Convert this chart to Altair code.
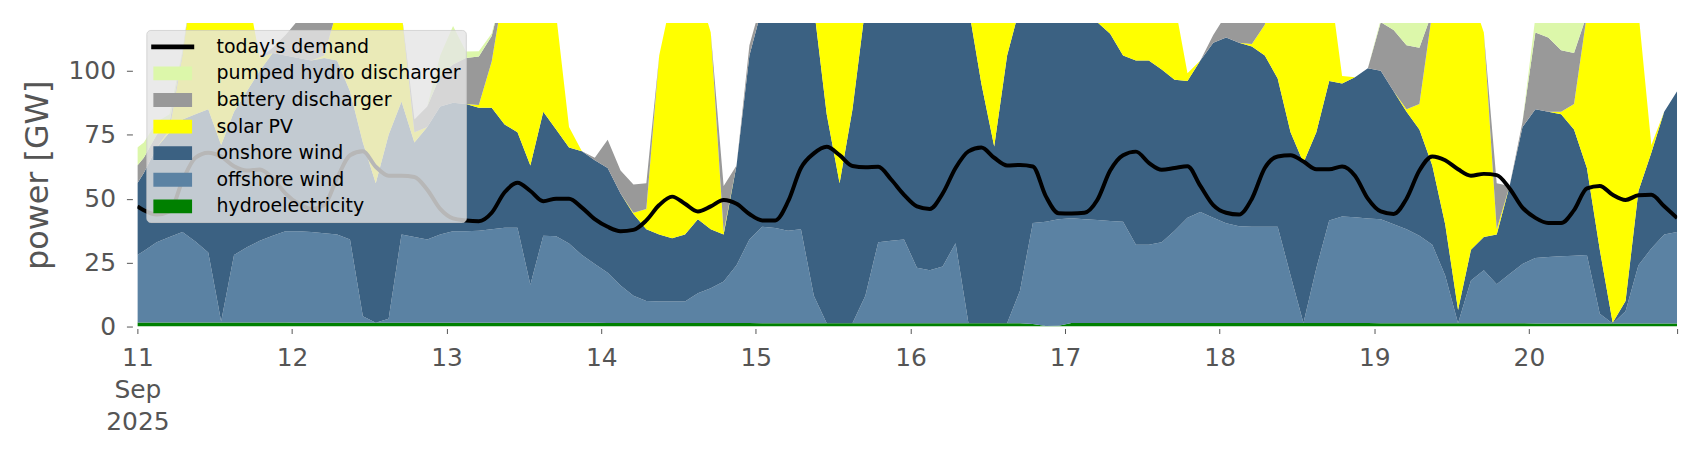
import altair as alt
import pandas as pd

# readings: 11 Sep 2025 00:00, then every odd hour 01:00 .. 20 Sep 2025 23:00
times = ["2025-09-11T00:00:00"] + list(
    pd.date_range("2025-09-11 01:00", "2025-09-20 23:00", freq="2h").strftime("%Y-%m-%dT%H:%M:%S"))

hydro = [1.6,
         1.6, 1.6, 1.6, 1.6, 1.6, 1.6, 1.6, 1.6, 1.6, 1.6, 1.6, 1.6,
         1.5, 1.5, 1.5, 1.5, 1.5, 1.5, 1.5, 1.5, 1.5, 1.5, 1.5, 1.5,
         1.5, 1.5, 1.5, 1.5, 1.5, 1.5, 1.5, 1.5, 1.5, 1.5, 1.5, 1.5,
         1.4, 1.4, 1.4, 1.4, 1.4, 1.4, 1.4, 1.4, 1.4, 1.4, 1.4, 1.4,
         1.3, 1.3, 1.3, 1.3, 1.3, 1.3, 1.3, 1.3, 1.3, 1.3, 1.3, 1.3,
         1.3, 1.3, 1.3, 1.3, 1.3, 1.3, 1.3, 1.3, 1.3, 1.0, 0.2, 0.3,
         1.4, 1.4, 1.4, 1.4, 1.4, 1.4, 1.4, 1.4, 1.4, 1.4, 1.4, 1.4,
         1.4, 1.4, 1.4, 1.4, 1.4, 1.4, 1.4, 1.4, 1.4, 1.4, 1.4, 1.4,
         1.3, 1.3, 1.3, 1.3, 1.3, 1.3, 1.3, 1.3, 1.3, 1.3, 1.3, 1.3,
         1.2, 1.2, 1.2, 1.2, 1.2, 1.2, 1.2, 1.2, 1.2, 1.2, 1.2, 1.2]

offshore = [26.4,
            27.9, 31.4, 33.4, 35.4, 31.7, 27.4, 0.4, 26.4, 29.4, 31.9, 33.9, 35.7,
            35.8, 35.5, 35.0, 34.5, 32.5, 2.5, 0.0, 1.5, 34.5, 33.5, 32.5, 34.5,
            35.8, 35.8, 36.0, 36.5, 37.1, 37.1, 14.8, 34.0, 33.8, 31.0, 26.5, 23.0,
            19.6, 14.6, 10.6, 8.6, 8.4, 8.4, 8.4, 11.6, 13.6, 16.2, 22.6, 32.6,
            37.7, 37.2, 36.2, 36.7, 10.7, 0.0, 0.0, 0.0, 10.7, 31.7, 32.2, 32.7,
            21.7, 20.7, 22.2, 31.3, 0.0, 0.0, 0.0, 0.0, 12.7, 39.5, 40.8, 41.7,
            40.9, 40.6, 40.3, 39.9, 39.6, 30.6, 30.6, 31.6, 36.1, 41.1, 43.4, 41.1,
            39.0, 37.8, 37.6, 37.6, 37.6, 18.6, 0.0, 21.4, 40.1, 41.6, 41.3, 40.8,
            40.7, 38.7, 36.7, 34.2, 30.7, 18.7, 0.0, 16.7, 20.7, 15.2, 19.2, 23.2,
            25.6, 26.0, 26.3, 26.5, 26.8, 3.8, 0.0, 4.8, 22.8, 29.3, 34.8, 35.8]

onshore = [28,
           30.5, 37, 41, 44, 49.7, 56, 69, 56, 61, 66.5, 71.5, 68.7,
           67.7, 67, 68.5, 68, 58, 68, 54.5, 72, 52, 37, 44, 50,
           50.2, 49.7, 48.1, 47.6, 40.4, 37.4, 46.7, 48.5, 41.7, 37.5, 40.5, 40.5,
           41, 36, 32, 28, 26.2, 24.7, 26.2, 29, 23, 18.4, 39, 72,
           86, 91.5, 92.5, 92, 113, 81.7, 54.7, 83.7, 113, 97, 96.5, 96,
           107, 108, 106.5, 97.4, 123.7, 93.7, 69.1, 104.7, 111, 89.5, 89, 86,
           85.7, 82, 77.3, 73.2, 65, 72, 72, 67.5, 59, 53.5, 59.2, 68.5,
           72.6, 71.8, 70.5, 67, 58, 56, 62.6, 53.2, 54.5, 52, 54.8, 58.8,
           58, 52, 46, 41.5, 31, 20, 5.2, 12, 13, 19.5, 34.5, 53.5,
           58.2, 56.8, 55.5, 49.3, 34, 25, 0.3, 4, 29, 37.5, 48, 55]

solar = [0,
         0, 0, 1, 25, 60, 80, 90, 75, 40, 5, 0, 0,
         0, 0, 1, 20, 50, 70, 85, 70, 35, 4, 0, 0,
         0, 0, 1, 18, 55, 75, 88, 72, 45, 8, 0, 0,
         0, 0, 0.5, 8, 70, 95, 100, 90, 77, 1, 0, 0,
         0, 0, 0.5, 15, 50, 75, 90, 75, 45, 5, 0, 0,
         0, 0, 0.5, 15, 45, 70, 80, 65, 35, 3, 0, 0,
         0, 0, 0.5, 12, 40, 60, 70, 55, 30, 3, 0, 0,
         0, 0, 1, 12, 45, 70, 85, 75, 40, 3, 0, 0,
         0, 0, 1, 10, 60, 90, 115, 100, 80, 2, 0, 0,
         0, 0, 1, 10, 60, 95, 120, 112, 70, 3, 0, 0]

battery = [7,
           6, 5, 3, 1, 0, 0, 0, 0, 0, 0, 2, 8,
           15, 18, 16, 2, 0, 0, 0, 0, 0, 5, 8, 12,
           15, 18, 19, 10, 0, 0, 0, 0, 0, 0, 0, 1,
           11, 9, 11, 10, 0, 0, 0, 0, 0, 18, 0, 4,
           3, 0, 0, 0, 0, 0, 0, 0, 0, 0, 0, 0,
           0, 0, 0, 0, 0, 0, 0, 0, 0, 0, 0, 0,
           0, 0, 1, 0, 0, 0, 0, 0, 0, 0, 0, 3,
           9, 10, 11, 5, 0, 0, 0, 0, 0, 0, 0, 0,
           19, 24, 25, 22, 0, 0, 0, 0, 0, 18, 0, 2,
           30, 29, 24, 20, 0, 0, 0, 0, 0, 0, 0, 0]

pumped = [7,
          6, 5, 3, 1, 0, 0, 0, 0, 0, 0, 0, 0,
          0, 0, 0, 0, 0, 0, 0, 0, 0, 0, 0, 8,
          15, 2.5, 2, 1, 0, 0, 0, 0, 0, 0, 0, 0,
          0, 0, 0, 0, 0, 0, 0, 0, 0, 0, 0, 0,
          0, 0, 0, 0, 0, 0, 0, 0, 0, 0, 0, 0,
          0, 0, 0, 0, 0, 0, 0, 0, 0, 0, 0, 0,
          0, 0, 0, 0, 0, 0, 0, 0, 0, 0, 0, 0,
          0, 0, 0, 0, 0, 0, 0, 0, 0, 0, 0, 0,
          1, 5, 12, 10, 0, 0, 0, 0, 0, 0, 0, 0,
          6, 8, 13, 13, 0, 0, 0, 0, 0, 0, 0, 0]

demand = [47,
          45.5, 43.8, 45, 57, 66, 68, 66.5, 62.7, 61, 61.4, 58, 52,
          48, 46, 47.5, 58, 67, 68.5, 62.5, 59, 59, 58.5, 53.5, 46,
          42.3, 41.5, 41.2, 44.5, 52.5, 56.2, 53, 49, 50, 50, 46.5, 42,
          39, 37.3, 37.8, 41.5, 47.5, 50.8, 48, 45, 47, 49.5, 48, 44,
          41.5, 41.5, 48.9, 62, 67.7, 70.3, 67, 62.8, 62.3, 62.5, 57.5, 51.5,
          47, 46, 52, 62, 68.5, 70, 66, 63, 63.2, 62.6, 51, 44.3,
          44.2, 44.5, 49.5, 61, 67, 68.4, 64, 61.3, 62, 62.7, 55, 47.5,
          44.5, 43.8, 50, 62, 66.5, 67, 64.5, 61.5, 61.5, 62.6, 59, 50,
          45, 44, 50, 61, 66.5, 65, 61.5, 59, 59.7, 59.2, 54, 46.5,
          42.5, 40.5, 40.5, 45.5, 54, 55, 51.5, 49.5, 51.3, 51.5, 47, 42.4]

legend_names = ["today's demand", "pumped hydro discharger", "battery discharger",
                "solar PV", "onshore wind", "offshore wind", "hydroelectricity"]
legend_colors = ["#000000", "#dcf7aa", "#999999", "#ffff00", "#3b6182", "#5b82a3", "#008000"]

stack_series = [("hydroelectricity", hydro), ("offshore wind", offshore),
                ("onshore wind", onshore), ("solar PV", solar),
                ("battery discharger", battery), ("pumped hydro discharger", pumped)]

y_ticks = [0, 25, 50, 75, 100]
y_max = 118.7

rows = []
for rank, (name, vals) in enumerate(stack_series):
    for t, v in zip(times, vals):
        rows.append({"time": t, "series": name, "value": v, "rank": rank})
area_df = pd.DataFrame(rows)
demand_df = pd.DataFrame({"time": times, "demand": demand})

x_scale = alt.Scale(domain=[alt.DateTime(year=2025, month=9, date=11, hours=0),
                            alt.DateTime(year=2025, month=9, date=20, hours=23)])
x_tick_values = [alt.DateTime(year=2025, month=9, date=d) for d in range(11, 21)] + [
    alt.DateTime(year=2025, month=9, date=20, hours=23)]
x_axis = alt.Axis(
    values=x_tick_values,
    labelExpr=("hours(datum.value) == 23 ? '' : (date(datum.value) == 11 ? "
               "['11', 'Sep', '2025'] : timeFormat(datum.value, '%-d'))"),
    labelFlush=False, labelOverlap=False, labelBound=False,
    tickSize=5, offset=2, labelPadding=12, labelLineHeight=32, title=None,
)
y_scale = alt.Scale(domain=[0, y_max], nice=False, zero=True)
y_axis = alt.Axis(values=y_ticks, format="d", tickSize=6, offset=5, labelPadding=11,
                  title="power [GW]", titleFontSize=32, titlePadding=14,
                  titleFontWeight="normal", titleColor="#555555")

sym_expr = ("datum.value == \"today's demand\" ? 'M-1.8,-0.2H1.8V0.2H-1.8Z' "
            ": 'M-1.62,-0.58H1.62V0.58H-1.62Z'")

legend = alt.Legend(
    title=None, orient="none", legendX=9, legendY=7,
    fillColor="rgba(229,229,229,0.8)", strokeColor="rgba(204,204,204,0.8)",
    cornerRadius=4, padding=5, rowPadding=4.7,
    labelFontSize=19, labelFont="DejaVu Sans", labelColor="#000000", labelLimit=400,
    symbolSize=576, symbolType={"expr": sym_expr}, symbolOffset=9.5, labelOffset=32,
    symbolStrokeWidth=0, symbolOpacity=1,
)

areas = alt.Chart(area_df).mark_area(opacity=1, clip=True, interpolate="linear").encode(
    x=alt.X("time:T", scale=x_scale, axis=x_axis),
    y=alt.Y("value:Q", stack="zero", scale=y_scale, axis=y_axis),
    color=alt.Color("series:N", scale=alt.Scale(domain=legend_names, range=legend_colors),
                    legend=legend),
    order=alt.Order("rank:Q", sort="ascending"),
)

line = alt.Chart(demand_df).mark_line(color="#000000", strokeWidth=4, clip=True,
                                      interpolate="monotone").encode(
    x=alt.X("time:T", scale=x_scale, axis=x_axis),
    y=alt.Y("demand:Q", scale=y_scale, axis=y_axis),
)

chart = alt.layer(areas, line).properties(
    width=1547, height=305,
    autosize=alt.AutoSizeParams(type="none"),
    padding={"left": 130, "top": 14, "right": 21, "bottom": 125},
).configure(font="DejaVu Sans", background="white").configure_view(
    stroke=None
).configure_axis(
    grid=False, domain=False, labelFont="DejaVu Sans", labelFontSize=25,
    labelColor="#555555", tickColor="#555555", tickWidth=1, titleFont="DejaVu Sans",
)

chart.save("out.html", embed_options={"renderer": "svg", "actions": False})
